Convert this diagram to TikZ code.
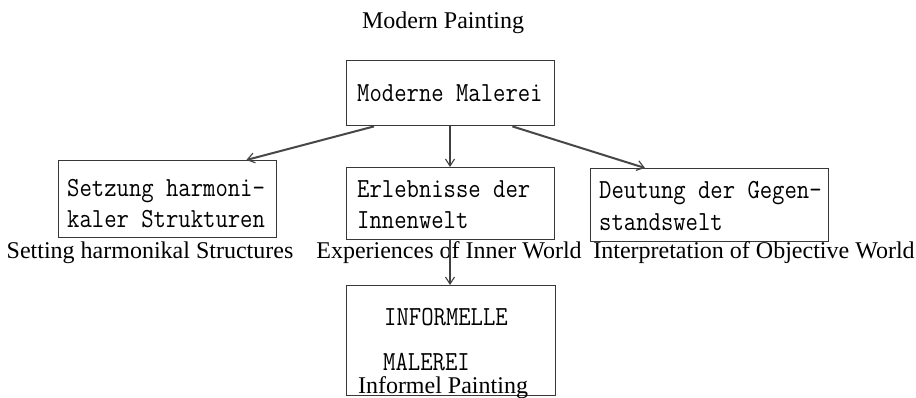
\documentclass[tikz,border=0pt]{standalone}
\usepackage{fontspec}
\setmainfont{Liberation Serif}
\usetikzlibrary{arrows.meta}
\newcommand{\twl}[1]{\scalebox{1}[1.15]{#1}}
\begin{document}
\begin{tikzpicture}[x=1pt,y=-1pt]
\tikzset{
  boxnode/.style={draw=black!78, line width=1.4pt, inner sep=0pt, anchor=north west},
  twtext/.style={font=\ttfamily\fontsize{24}{32}\selectfont, anchor=base west, inner sep=0pt, align=left},
  entext/.style={font=\fontsize{24}{28}\selectfont, anchor=base, inner sep=0pt},
  arr/.style={draw=black!75, line width=1.1pt, -{Straight Barb[length=7pt,width=9pt]}},
  arrthick/.style={draw=black!72, line width=2pt, -{Straight Barb[length=7pt,width=10pt,line width=1.2pt]}}
}
\fill[white] (0,0) rectangle (916,397);
\useasboundingbox (0,0) rectangle (916,397);

% title
\node[entext] (title) at (443,28) {Modern Painting};

% boxes
\node[boxnode, minimum width=208pt, minimum height=65pt] (b1) at (346,60) {};
\node[boxnode, minimum width=218pt, minimum height=77pt] (b2) at (58,160) {};
\node[boxnode, minimum width=208pt, minimum height=72pt] (b3) at (346,167) {};
\node[boxnode, minimum width=238pt, minimum height=73pt] (b4) at (590,168) {};
\node[boxnode, minimum width=209pt, minimum height=110pt] (b5) at (346,285) {};

% box texts
\node[twtext] (t1) at (357,101) {\twl{Moderne Malerei}};
\node[twtext] (t2a) at (67,196) {\twl{Setzung harmoni-}};
\node[twtext] (t2b) at (67,227) {\twl{kaler Strukturen}};
\node[twtext] (t3a) at (357,197) {\twl{Erlebnisse der}};
\node[twtext] (t3b) at (357,228) {\twl{Innenwelt}};
\node[twtext] (t4a) at (599,198) {\twl{Deutung der Gegen-}};
\node[twtext] (t4b) at (599,230) {\twl{standswelt}};
\node[twtext] (t5a) at (384,325) {\twl{INFORMELLE}};
\node[twtext] (t5b) at (383,370) {\twl{MALEREI}};

% english labels
\node[entext] (l2) at (150,258) {Setting harmonikal Structures};
\node[entext] (l3) at (449,258) {Experiences of Inner World};
\node[entext] (l4) at (754,258) {Interpretation of Objective World};
\node[entext] (l5) at (443,393) {Informel Painting};

% connectors
\coordinate (b1l) at ([xshift=28pt]b1.south west);
\coordinate (b1r) at ([xshift=-43pt]b1.south east);
\coordinate (b2t) at ([xshift=-31pt]b2.north east);
\coordinate (b4t) at ([xshift=55pt]b4.north west);
\draw[arrthick] (b1l) -- (b2t);
\draw[arrthick] (b1r) -- (b4t);
\draw[arr] (b1.south -| 450,0) -- (b3.north -| 450,0);
\draw[arr] (b3.south -| 450,0) -- (b5.north -| 450,0);
\end{tikzpicture}
\end{document}
